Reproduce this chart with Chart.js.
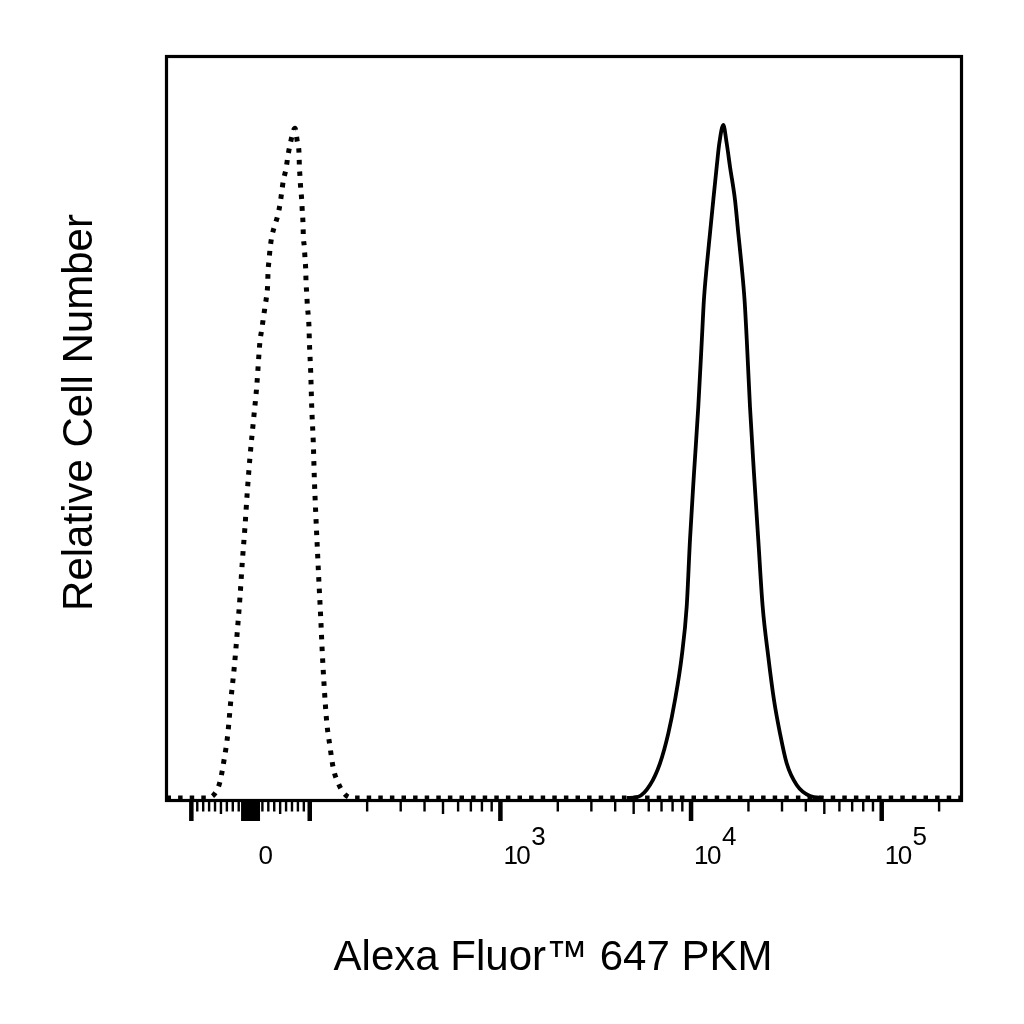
<!DOCTYPE html>
<html>
<head>
<meta charset="utf-8">
<script src="https://cdn.jsdelivr.net/npm/chart.js@4.4.0/dist/chart.umd.min.js"></script>
<style>
  html, body { margin: 0; padding: 0; background: #ffffff; }
  #wrap { width: 1024px; height: 1024px; position: relative; }
</style>
</head>
<body>
<div id="wrap"><canvas id="c" width="1024" height="1024"></canvas></div>
<script>
// ---------------- data ----------------
const xAxisTitle = 'Alexa Fluor™ 647 PKM';
const yAxisTitle = 'Relative Cell Number';

// isotype control (dotted)
const isotypeX = [-135, -74, -60, -51.6, -44.3, -38.6, -33.5, -27.4, -22.4, -17.8, -13.9, -9.4, -5.5, -0.9, 4.7, 10.4, 16.0,
  18.8, 21.6, 24.4, 27.3, 29.0, 29.5, 31.2, 32.9, 35.7, 40.1, 45.9, 49.8, 52.6, 55.3, 59.9, 62.8, 66.6, 75.1,
  79.0, 81.9, 82.4, 83.5, 84.7, 86.4, 87.4, 88.6, 89.1, 90.8, 92.0, 93.2, 93.7, 94.9, 95.9, 97.6, 98.8, 99.3,
  101.2, 102.4, 104.4, 105.7, 107.5, 109.6, 111.8, 114.2, 116.4, 119.2, 122.7, 127.7, 132.9, 141.2, 151.2, 166, 262144];
const isotypeY = [0, 0, 0.62, 2.19, 5.34, 8.48, 12.98, 17.70, 22.42, 27.14, 31.86, 36.58, 41.30, 46.02, 50.74, 55.46, 61.67,
  63.11, 64.69, 66.25, 67.83, 69.41, 70.89, 72.46, 74.04, 75.61, 77.04, 78.53, 80.10, 81.68, 83.25, 84.83, 86.40, 88.06, 90.32,
  88.51, 86.94, 85.37, 83.79, 82.22, 80.65, 79.07, 77.50, 75.92, 74.35, 72.78, 71.20, 69.62, 68.06, 66.48, 64.90, 63.34, 61.76,
  57.27, 52.76, 47.83, 43.11, 38.39, 33.67, 28.95, 24.22, 19.50, 14.78, 10.28, 6.91, 3.99, 1.97, 0.62, 0, 0];

// PKM stained (solid)
const stainedX = [4597, 5288, 6089, 6872, 7598, 8237, 8930, 9487, 9872, 10361, 10914, 11390, 11680, 12080, 12571, 13082, 13632, 14066, 14762,
  15380, 16005, 17003, 17694, 18434, 19080, 19600, 20375, 21383, 22524, 23749, 25415, 27227, 29273, 31740, 35823, 42058, 49394];
const stainedY = [0, 0.16, 1.74, 4.67, 8.71, 13.20, 19.04, 25.79, 34.79, 43.78, 52.76, 61.76, 67.16, 71.65, 76.15, 80.65, 85.14, 88.29, 90.76,
  88.29, 85.14, 80.65, 76.15, 71.65, 67.16, 61.76, 52.76, 43.78, 34.79, 25.79, 19.04, 13.20, 8.71, 4.67, 1.74, 0.26, 0];

// axis range and ticks
const xMin = -135;
const xMax = 262144;
const majorTicks = [-100, 0, 100, 1000, 10000, 100000];
const mediumTicks = [-50, 50, 500, 5000, 50000];
const minorTicks = [-90, -80, -70, -60, -40, -30, -20, -10, 10, 20, 30, 40, 60, 70, 80, 90,
  200, 300, 400, 600, 700, 800, 900, 2000, 3000, 4000, 6000, 7000, 8000, 9000,
  20000, 30000, 40000, 60000, 70000, 80000, 90000, 200000];
const zeroBlockTicks = [-14, -12, -10, -8, -6, -4, -2, 0, 2, 4, 6, 8, 10, 12, 14];
const tickLabelValues = [0, 1000, 10000, 100000];
const tickLabelBase = ['0', '10', '10', '10'];
const tickLabelExp = ['', '3', '4', '5'];

// ---------------- biexponential-like scale ----------------
const LIN = 100;          // linear half-width
const D0 = 59 / 190;      // display width (decades) of linear half region
function fwd(v) {
  if (v > LIN) return D0 + Math.log10(v / LIN);
  if (v < -LIN) return -(D0 + Math.log10(-v / LIN));
  return D0 * v / LIN;
}
function inv(t) {
  if (t > D0) return LIN * Math.pow(10, t - D0);
  if (t < -D0) return -LIN * Math.pow(10, -t - D0);
  return LIN * t / D0;
}
class BiexScale extends Chart.Scale {
  static id = 'biex';
  static defaults = {};
  determineDataLimits() { this.min = this.options.min; this.max = this.options.max; }
  buildTicks() { return majorTicks.map(v => ({ value: v })); }
  configure() {
    super.configure();
    this._t0 = fwd(this.min);
    this._t1 = fwd(this.max);
  }
  getPixelForValue(v) { return this.getPixelForDecimal((fwd(v) - this._t0) / (this._t1 - this._t0)); }
  getValueForPixel(p) { return inv(this._t0 + this.getDecimalForPixel(p) * (this._t1 - this._t0)); }
  getLabelForValue(v) { return String(v); }
}
Chart.register(BiexScale);

const FONT = '"Liberation Sans", Arial, Helvetica, sans-serif';

const decorPlugin = {
  id: 'decor',
  afterDatasetsDraw(chart) {
    const ctx = chart.ctx;
    const a = chart.chartArea;
    const xs = chart.scales.x;
    ctx.save();
    // frame
    ctx.strokeStyle = '#000';
    ctx.lineWidth = 3.2;
    ctx.strokeRect(a.left, a.top, a.right - a.left, a.bottom - a.top);
    // ticks
    const drawTicks = (vals, len, w) => {
      ctx.lineWidth = w;
      ctx.beginPath();
      vals.forEach(v => {
        const px = xs.getPixelForValue(v);
        ctx.moveTo(px, a.bottom);
        ctx.lineTo(px, a.bottom + len);
      });
      ctx.stroke();
    };
    ctx.lineCap = 'butt';
    drawTicks(minorTicks, 11, 2.4);
    drawTicks(mediumTicks, 13.5, 2.4);
    drawTicks(zeroBlockTicks, 20.5, 2.4);
    drawTicks(majorTicks, 20.5, 4.5);
    // tick labels
    ctx.fillStyle = '#000';
    ctx.font = '26px ' + FONT;
    ctx.textAlign = 'left';
    ctx.textBaseline = 'alphabetic';
    if ('letterSpacing' in ctx) ctx.letterSpacing = '-1.5px';
    tickLabelValues.forEach((v, i) => {
      const px = xs.getPixelForValue(v);
      if (tickLabelExp[i]) {
        const x0 = px + 3;
        ctx.fillText(tickLabelBase[i], x0, 863.5);
        const w = ctx.measureText(tickLabelBase[i]).width;
        ctx.fillText(tickLabelExp[i], x0 + w + 2, 845);
      } else {
        ctx.fillText(tickLabelBase[i], px + 8, 863.5);
      }
    });
    if ('letterSpacing' in ctx) ctx.letterSpacing = '0px';
    // axis titles
    ctx.font = '42px ' + FONT;
    ctx.textAlign = 'center';
    ctx.fillText(xAxisTitle, 553, 970);
    ctx.translate(92, 412.5);
    ctx.rotate(-Math.PI / 2);
    ctx.fillText(yAxisTitle, 0, 0);
    ctx.restore();
  }
};

const toPoints = (xs, ys) => xs.map((x, i) => ({ x: x, y: ys[i] }));

new Chart(document.getElementById('c'), {
  type: 'line',
  data: {
    datasets: [
      {
        label: 'Isotype control',
        data: toPoints(isotypeX, isotypeY),
        borderColor: '#000',
        borderWidth: 5,
        borderDash: [4.5, 7.1],
        borderCapStyle: 'butt',
        pointRadius: 0,
        cubicInterpolationMode: 'monotone',
        fill: false
      },
      {
        label: 'PKM',
        data: toPoints(stainedX, stainedY),
        borderColor: '#000',
        borderWidth: 3.8,
        pointRadius: 0,
        cubicInterpolationMode: 'monotone',
        fill: false
      }
    ]
  },
  options: {
    responsive: false,
    animation: false,
    devicePixelRatio: 1,
    layout: { padding: { left: 166.5, top: 56.5, right: 62.5, bottom: 223.5 } },
    plugins: { legend: { display: false }, tooltip: { enabled: false } },
    scales: {
      x: { type: 'biex', min: xMin, max: xMax, display: false },
      y: { type: 'linear', min: -0.35, max: 100, display: false }
    }
  },
  plugins: [decorPlugin]
});
</script>
</body>
</html>
